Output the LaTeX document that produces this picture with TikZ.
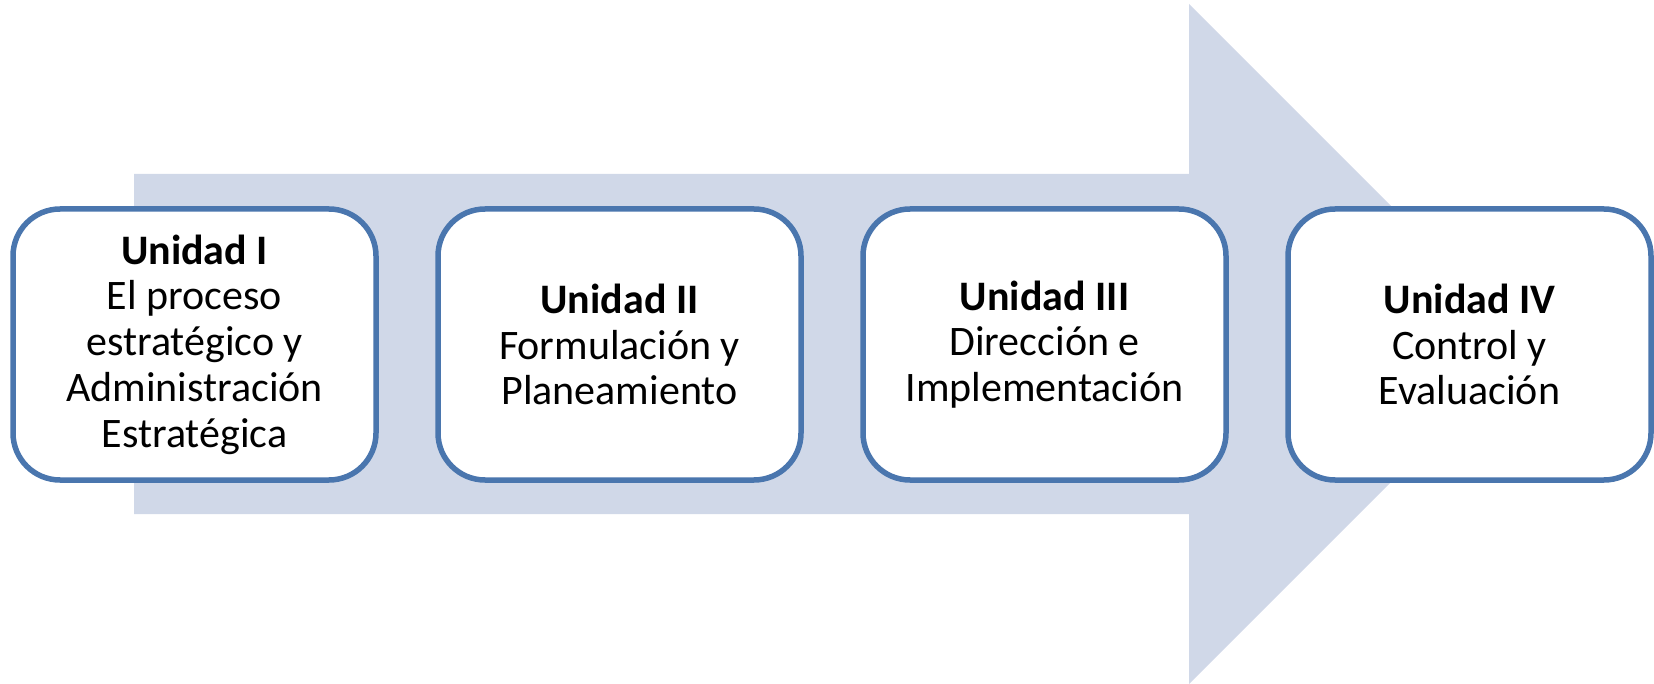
\documentclass[tikz,border=0pt]{standalone}
\usepackage{fontspec}
\setmainfont{Carlito}
\definecolor{arrowfill}{HTML}{D0D8E8}
\definecolor{boxline}{HTML}{4A76AE}
\begin{document}
\begin{tikzpicture}[x=1pt,y=-1pt,
  unitbox/.style={draw=boxline, line width=5.5pt, fill=white, rounded corners=47pt,
    minimum width=363pt, minimum height=271pt, align=center, inner sep=0pt,
    font=\fontsize{42}{45.8}\selectfont}]
\useasboundingbox (0,0) rectangle (1654,684);
\fill[arrowfill] (134,174) -- (1189,174) -- (1189,4) -- (1529,344) -- (1189,684)
  -- (1189,514) -- (134,514) -- cycle;
\node[unitbox] (u1) at (194.5,344.5) {\textbf{Unidad I}\\El proceso\\estratégico y\\Administración\\Estratégica};
\node[unitbox] (u2) at (619.5,344.5) {\textbf{Unidad II}\\Formulación y\\Planeamiento};
\node[unitbox] (u3) at (1044.5,344.5) {\textbf{Unidad III}\\Dirección e\\Implementación};
\node[unitbox] (u4) at (1469.5,344.5) {\textbf{Unidad IV}\\Control y\\Evaluación};
\end{tikzpicture}
\end{document}
